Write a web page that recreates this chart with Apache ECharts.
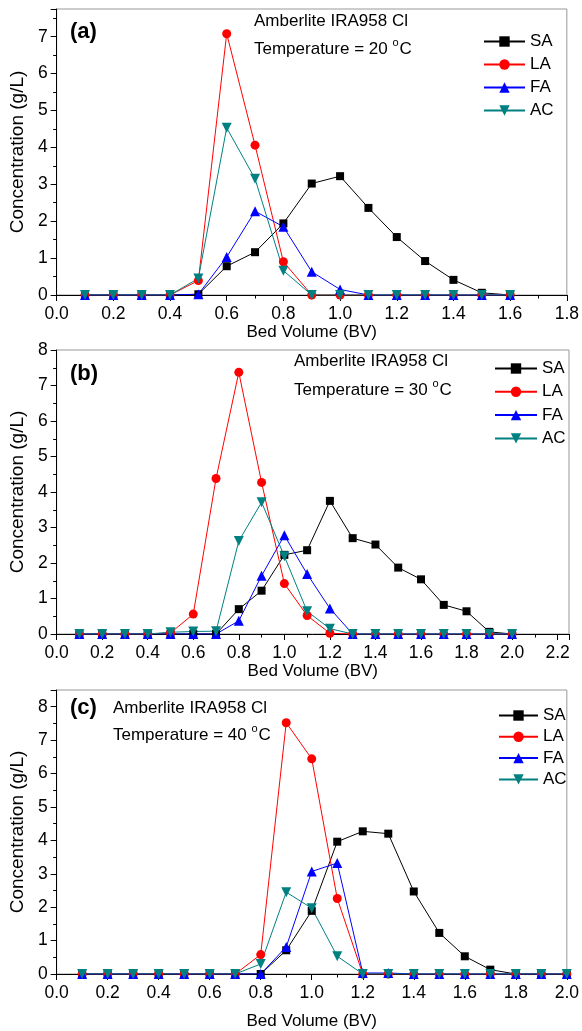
<!DOCTYPE html>
<html>
<head>
<meta charset="utf-8">
<script src="https://cdn.jsdelivr.net/npm/echarts@6/dist/echarts.min.js"></script>
<style>
  html, body { margin: 0; padding: 0; background: #fff; }
  #main { width: 582px; height: 1031px; }
</style>
</head>
<body>
<div id="main"></div>
<script>
// bed volume values (x) for each panel
var bvA = [0.1,0.2,0.3,0.4,0.5,0.6,0.7,0.8,0.9,1.0,1.1,1.2,1.3,1.4,1.5,1.6];
var bvBC = [0.1,0.2,0.3,0.4,0.5,0.6,0.7,0.8,0.9,1.0,1.1,1.2,1.3,1.4,1.5,1.6,1.7,1.8,1.9,2.0];

// (a) 20 C
var saA = [0,0,0,0,0.02,0.78,1.16,1.94,3.02,3.22,2.36,1.57,0.92,0.41,0.06,0];
var laA = [0,0,0,0,0.39,7.08,4.06,0.90,0,0,0,0,0,0,0,0];
var faA = [0,0,0,0,0.02,1.03,2.27,1.85,0.63,0.15,0,0,0,0,0,0];
var acA = [0,0,0,0,0.45,4.53,3.15,0.66,0,0,0,0,0,0,0,0];

// (b) 30 C
var saB = [0,0,0,0,0,0,0,0.70,1.22,2.23,2.36,3.75,2.70,2.52,1.87,1.54,0.82,0.64,0.06,0];
var laB = [0,0,0,0,0.03,0.56,4.38,7.37,4.27,1.42,0.52,0.02,0,0,0,0,0,0,0,0];
var faB = [0,0,0,0,0,0,0,0.37,1.64,2.78,1.69,0.72,0,0,0,0,0,0,0,0];
var acB = [0,0,0,0,0.05,0.07,0.08,2.62,3.71,2.19,0.64,0.15,0,0,0,0,0,0,0,0];

// (c) 40 C
var saC = [0,0,0,0,0,0,0,0,0.71,1.89,3.96,4.27,4.20,2.47,1.23,0.53,0.13,0,0,0];
var laC = [0,0,0,0,0,0,0,0.58,7.52,6.44,2.26,0,0,0,0,0,0,0,0,0];
var faC = [0,0,0,0,0,0,0,0,0.81,3.07,3.32,0.03,0.03,0,0,0,0,0,0,0];
var acC = [0,0,0,0,0,0,0,0.30,2.45,1.97,0.53,0,0,0,0,0,0,0,0,0];

var names = ['SA', 'LA', 'FA', 'AC'];
var colors = ['#000000', '#ff0000', '#0000ff', '#008080'];
var symbols = ['rect', 'circle', 'triangle', 'triangle'];
var symSizes = [8, 9, 10, 10];
var symRot = [0, 0, 0, 180];

var xMax = [1.8, 2.25, 2.0];
var yMax = [7.75, 8, 8.5];
var temps = ['20', '30', '40'];
var tags = ['(a)', '(b)', '(c)'];

var FONT = '"Liberation Sans", Arial, sans-serif';

var panels = [
  { bv: bvA, ys: [saA, laA, faA, acA] },
  { bv: bvBC, ys: [saB, laB, faB, acB] },
  { bv: bvBC, ys: [saC, laC, faC, acC] }
];

var grids = [
  { left: 53, top: 9, width: 516, height: 286 },
  { left: 53, top: 350, width: 516, height: 284 },
  { left: 53, top: 690, width: 516, height: 284 }
];
var nameGaps = [28, 27, 39];
var legendPos = [[478, 28, 41, 6], [489, 355, 42, 6.3], [493, 702, 39, 4.3]];
var notePos = [[254, 22, 46, 70, 33], [294, 362, 387, 70, 375], [113, 709, 732, 70, 709]];

var xAxes = [], yAxes = [], series = [], legends = [], graphics = [];

grids.forEach(function (g, k) {
  g.show = true;
  g.borderColor = '#999';
  g.borderWidth = 1;
  g.containLabel = false;

  xAxes.push({
    type: 'value', gridIndex: k, min: 0, max: xMax[k], interval: 0.2,
    name: 'Bed Volume (BV)', nameLocation: 'middle', nameGap: nameGaps[k],
    nameTextStyle: { fontFamily: FONT, fontSize: 17, color: '#000' },
    axisLine: { show: true, lineStyle: { color: '#000', width: 1 } },
    axisTick: { show: true, inside: false, length: 6, lineStyle: { color: '#000' } },
    minorTick: { show: true, splitNumber: 2, length: 3.5, lineStyle: { color: '#000' } },
    splitLine: { show: false },
    axisLabel: {
      fontFamily: FONT, fontSize: 17.5, color: '#000', margin: 10,
      showMaxLabel: k !== 1,
      formatter: function (v) { return v.toFixed(1); }
    }
  });

  yAxes.push({
    type: 'value', gridIndex: k, min: 0, max: yMax[k], interval: 1,
    name: 'Concentration (g/L)', nameLocation: 'middle', nameGap: 27,
    nameTextStyle: { fontFamily: FONT, fontSize: 19, color: '#000' },
    axisLine: { show: true, lineStyle: { color: '#000', width: 1 } },
    axisTick: { show: true, inside: false, length: 6, lineStyle: { color: '#000' } },
    minorTick: { show: true, splitNumber: 2, length: 3.5, lineStyle: { color: '#000' } },
    splitLine: { show: false },
    axisLabel: {
      fontFamily: FONT, fontSize: 17.5, color: '#000', margin: 9,
      showMaxLabel: k === 1
    }
  });

  var p = panels[k];
  names.forEach(function (nm, i) {
    series.push({
      name: nm, type: 'line', xAxisIndex: k, yAxisIndex: k,
      data: p.bv.map(function (x, j) { return [x, p.ys[i][j]]; }),
      symbol: symbols[i], symbolSize: symSizes[i], symbolRotate: symRot[i],
      showAllSymbol: true,
      itemStyle: { color: colors[i] },
      lineStyle: { color: colors[i], width: 1 },
      emphasis: { disabled: true }
    });
  });

  var lp = legendPos[k];
  legends.push({
    orient: 'vertical', left: lp[0], top: lp[1],
    itemWidth: lp[2], itemHeight: 13, itemGap: lp[3],
    data: names,
    textStyle: { fontFamily: FONT, fontSize: 17, color: '#000', padding: [0, 0, 0, 0] },
    selectedMode: false
  });

  var np = notePos[k];
  graphics.push({
    type: 'text', left: np[0], top: np[1] - 9,
    style: { text: 'Amberlite IRA958 Cl', font: '17px ' + FONT, fill: '#000' }
  });
  graphics.push({
    type: 'text', left: np[0], top: np[2] - 12,
    style: {
      text: '{n|Temperature = ' + temps[k] + ' }{s|o}{n|C}',
      fill: '#000',
      rich: {
        n: { fontFamily: FONT, fontSize: 17, lineHeight: 24, verticalAlign: 'bottom' },
        s: { fontFamily: FONT, fontSize: 11, lineHeight: 24, verticalAlign: 'top', padding: [3, 1, 0, 0] }
      }
    }
  });
  graphics.push({
    type: 'text', left: np[3], top: np[4] - 12,
    style: { text: tags[k], font: 'bold 22px ' + FONT, fill: '#000' }
  });
});

var myChart = echarts.init(document.getElementById('main'));
myChart.setOption({
  animation: false,
  backgroundColor: '#fff',
  grid: grids,
  xAxis: xAxes,
  yAxis: yAxes,
  legend: legends,
  series: series,
  graphic: graphics
});
</script>
</body>
</html>
